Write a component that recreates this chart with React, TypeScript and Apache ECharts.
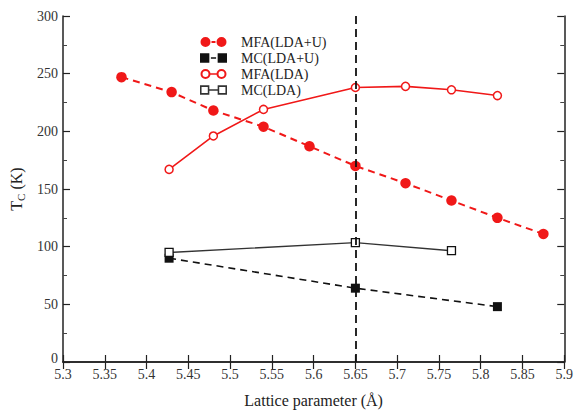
import React, { useEffect, useRef } from "react";
import * as echarts from "echarts";

const mfaLdaU: [number, number][] = [
  [5.37, 247], [5.43, 234], [5.48, 218], [5.54, 204], [5.595, 187],
  [5.65, 170], [5.71, 155], [5.765, 140], [5.82, 125], [5.875, 111],
];
const mcLdaU: [number, number][] = [[5.427, 90], [5.65, 64], [5.82, 48]];
const mfaLda: [number, number][] = [
  [5.427, 167], [5.48, 196], [5.54, 219], [5.65, 238], [5.71, 239], [5.765, 236], [5.82, 231],
];
const mcLda: [number, number][] = [[5.427, 95], [5.65, 103.5], [5.765, 96.5]];
const vLineX = 5.65;
const seriesNames = ["MFA(LDA+U)", "MC(LDA+U)", "MFA(LDA)", "MC(LDA)"];

const FONT = "Liberation Serif";
const RED = "#f01818";
const BLACK = "#111";

const ICON_FILLED_CIRCLES =
  "path://M0,5A5,5 0 1 1 10,5A5,5 0 1 1 0,5Z M16,5A5,5 0 1 1 26,5A5,5 0 1 1 16,5Z M11,4H15V6H11Z";
const ICON_FILLED_SQUARES =
  "path://M0,0.5H9V9.5H0Z M17,0.5H26V9.5H17Z M10.5,4.2H15.5V5.8H10.5Z";
const ICON_OPEN_CIRCLES =
  "path://M0,5A5,5 0 1 1 10,5A5,5 0 1 1 0,5Z M2,5A3,3 0 1 0 8,5A3,3 0 1 0 2,5Z M16,5A5,5 0 1 1 26,5A5,5 0 1 1 16,5Z M18,5A3,3 0 1 0 24,5A3,3 0 1 0 18,5Z M9.5,4.2H16.5V5.8H9.5Z";
const ICON_OPEN_SQUARES =
  "path://M0,0.5H9V9.5H0Z M1.5,2V8H7.5V2Z M17,0.5H26V9.5H17Z M18.5,2V8H24.5V2Z M8.5,4.3H17.5V5.7H8.5Z";

export default function App() {
  const ref = useRef<HTMLDivElement>(null);
  useEffect(() => {
    const chart = echarts.init(ref.current!, null, { renderer: "svg" });
    const fmt = (v: number) => String(Number(v.toFixed(2)));
    chart.setOption({
      animation: false,
      backgroundColor: "#fff",
      textStyle: { fontFamily: FONT },
      grid: { left: 63, right: 8, top: 16, bottom: 52 },
      legend: {
        orient: "vertical",
        left: 195,
        top: 30,
        itemGap: 2,
        itemWidth: 27,
        itemHeight: 10,
        textStyle: { fontFamily: FONT, fontSize: 14, color: "#222", padding: [0, 0, 0, 9] },
        data: [
          { name: seriesNames[0], icon: ICON_FILLED_CIRCLES, itemStyle: { color: RED, borderWidth: 0 } },
          { name: seriesNames[1], icon: ICON_FILLED_SQUARES, itemStyle: { color: BLACK, borderWidth: 0 } },
          { name: seriesNames[2], icon: ICON_OPEN_CIRCLES, itemStyle: { color: RED, borderWidth: 0 } },
          { name: seriesNames[3], icon: ICON_OPEN_SQUARES, itemStyle: { color: "#333", borderWidth: 0 } },
        ],
      },
      xAxis: [
        {
          type: "value", min: 5.3, max: 5.9, interval: 0.05,
          name: "Lattice parameter (Å)", nameLocation: "middle", nameGap: 30,
          nameTextStyle: { fontFamily: FONT, fontSize: 16, color: "#222" },
          axisLine: { lineStyle: { color: "#222", width: 1.5 } },
          axisTick: { inside: true, length: 7, lineStyle: { color: "#222", width: 1.2 } },
          axisLabel: { formatter: fmt, fontFamily: FONT, fontSize: 14, color: "#333", margin: 5 },
          splitLine: { show: false },
        },
        {
          type: "value", min: 5.3, max: 5.9, interval: 0.05, position: "top",
          axisLine: { lineStyle: { color: "#222", width: 1.5 } },
          axisTick: { inside: true, length: 7, lineStyle: { color: "#222", width: 1.2 } },
          axisLabel: { show: false },
          splitLine: { show: false },
        },
      ],
      yAxis: [
        {
          type: "value", min: 0, max: 300, interval: 50,
          name: "{t|T}{s|C}{t| (K)}", nameLocation: "middle", nameGap: 31, nameRotate: 90,
          nameTextStyle: {
            rich: {
              t: { fontFamily: FONT, fontSize: 16, color: "#222" },
              s: { fontFamily: FONT, fontSize: 11, color: "#222", verticalAlign: "bottom", padding: [8, 0, 0, 0] },
            },
          },
          axisLine: { lineStyle: { color: "#222", width: 1.5 } },
          axisTick: { inside: true, length: 7, lineStyle: { color: "#222", width: 1.2 } },
          minorTick: { show: true, splitNumber: 2, length: 4, lineStyle: { color: "#444" } },
          axisLabel: {
            fontFamily: FONT, fontSize: 14, color: "#333", margin: 5,
            formatter: (v: number) => (v === 0 ? "{z|0}" : String(v)),
            rich: { z: { fontFamily: FONT, fontSize: 14, color: "#333", padding: [0, 0, 8, 0] } },
          },
          splitLine: { show: false },
        },
        {
          type: "value", min: 0, max: 300, interval: 50, position: "right",
          axisLine: { lineStyle: { color: "#222", width: 1.5 } },
          axisTick: { inside: true, length: 7, lineStyle: { color: "#222", width: 1.2 } },
          minorTick: { show: true, splitNumber: 2, length: 4, lineStyle: { color: "#444" } },
          axisLabel: { show: false },
          splitLine: { show: false },
        },
      ],
      series: [
        {
          name: seriesNames[0], type: "line", data: mfaLdaU,
          symbol: "circle", symbolSize: 10.5,
          itemStyle: { color: RED },
          lineStyle: { color: RED, width: 2, type: [7, 5] },
          markLine: {
            silent: true, symbol: "none", label: { show: false },
            lineStyle: { color: BLACK, width: 1.8, type: [8, 5] },
            data: [[{ coord: [vLineX, 0] }, { coord: [vLineX, 300] }]],
          },
        },
        {
          name: seriesNames[1], type: "line", data: mcLdaU,
          symbol: "rect", symbolSize: 9,
          itemStyle: { color: BLACK },
          lineStyle: { color: BLACK, width: 1.6, type: [7, 5] },
        },
        {
          name: seriesNames[2], type: "line", data: mfaLda,
          symbol: "circle", symbolSize: 8, showAllSymbol: true,
          itemStyle: { color: "#fff", borderColor: RED, borderWidth: 1.5 },
          lineStyle: { color: RED, width: 1.6 },
        },
        {
          name: seriesNames[3], type: "line", data: mcLda,
          symbol: "rect", symbolSize: 8,
          itemStyle: { color: "#fff", borderColor: BLACK, borderWidth: 1.3 },
          lineStyle: { color: "#333", width: 1.4 },
        },
      ],
    });
    return () => chart.dispose();
  }, []);
  return <div ref={ref} style={{ width: 576, height: 414, position: "absolute", left: 0, top: 0 }} />;
}
